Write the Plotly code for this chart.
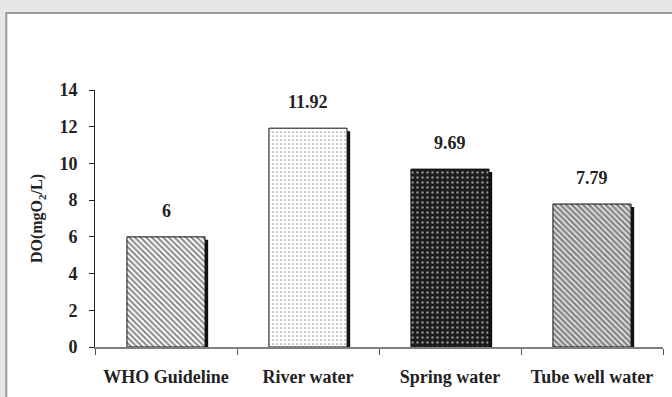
import plotly.graph_objects as go

# Dissolved oxygen by water source
categories = ["WHO Guideline", "River water", "Spring water", "Tube well water"]
do_values = [6, 11.92, 9.69, 7.79]
y_ticks = [0, 2, 4, 6, 8, 10, 12, 14]

FONT = "Times New Roman, Liberation Serif, serif"
BAR_W = 0.55
PX_PER_UNIT = 257 / 14.0
SHADOW_DX = 0.022            # horizontal offset of drop shadow (category units)
SHADOW_DY = 3 / PX_PER_UNIT  # shadow starts ~3px below bar top

patterns = [
    dict(shape="\\", fgcolor="#111111", bgcolor="white", size=4, solidity=0.5),
    dict(shape=".", fgcolor="#333333", bgcolor="white", size=4, solidity=0.15),
    dict(shape=".", fgcolor="white", bgcolor="#1c1c1c", size=5, solidity=0.2),
    dict(shape="\\", fgcolor="#111111", bgcolor="white", size=4, solidity=0.7),
]

fig = go.Figure()

# drop shadows
fig.add_trace(go.Bar(
    x=categories,
    y=[v - SHADOW_DY for v in do_values],
    width=BAR_W,
    offset=-BAR_W / 2 + SHADOW_DX,
    marker=dict(color="#111111", line=dict(width=0)),
    hoverinfo="skip",
    showlegend=False,
))

# patterned bars
for cat, val, pat in zip(categories, do_values, patterns):
    fig.add_trace(go.Bar(
        x=[cat], y=[val],
        width=BAR_W,
        offset=-BAR_W / 2,
        marker=dict(color=pat["bgcolor"], pattern=pat,
                    line=dict(color="#111111", width=1)),
        showlegend=False,
    ))

# value labels
for cat, val in zip(categories, do_values):
    fig.add_annotation(
        x=cat, y=val, text=f"<b>{val:g}</b>", showarrow=False,
        yanchor="bottom", yshift=14,
        font=dict(family=FONT, size=18, color="#222222"),
    )

# outer frame on grey band
fig.add_shape(
    type="rect", xref="paper", yref="paper",
    x0=(6 - 95) / 570, x1=1.2, y0=-0.6, y1=(347 - 13) / 257,
    fillcolor="white", line=dict(color="#9a9a9a", width=2), layer="below",
)

fig.update_layout(
    width=672, height=397,
    margin=dict(l=95, r=9, t=90, b=50),
    paper_bgcolor="#e6e7e9",
    plot_bgcolor="rgba(0,0,0,0)",
    barmode="overlay",
    font=dict(family=FONT, color="#222222"),
)

fig.update_xaxes(
    type="category",
    tickson="boundaries",
    ticks="outside", ticklen=6, tickcolor="#555555", tickwidth=1,
    showline=True, linecolor="#7f7f7f", linewidth=2,
    showgrid=False, zeroline=False,
    tickfont=dict(family=FONT, size=18, color="#222222", weight="bold"),
    ticklabelstandoff=12,
)

fig.update_yaxes(
    range=[0, 14],
    tickvals=y_ticks,
    ticks="outside", ticklen=5, tickcolor="#222222", tickwidth=1,
    showline=True, linecolor="#222222", linewidth=1,
    showgrid=False, zeroline=False,
    tickfont=dict(family=FONT, size=18, color="#222222", weight="bold"),
    ticklabelstandoff=8,
    title=dict(text="<b>DO(mgO<sub>2</sub>/L)</b>",
               font=dict(family=FONT, size=16, color="#222222"), standoff=12),
)

fig.write_html("out.html")
